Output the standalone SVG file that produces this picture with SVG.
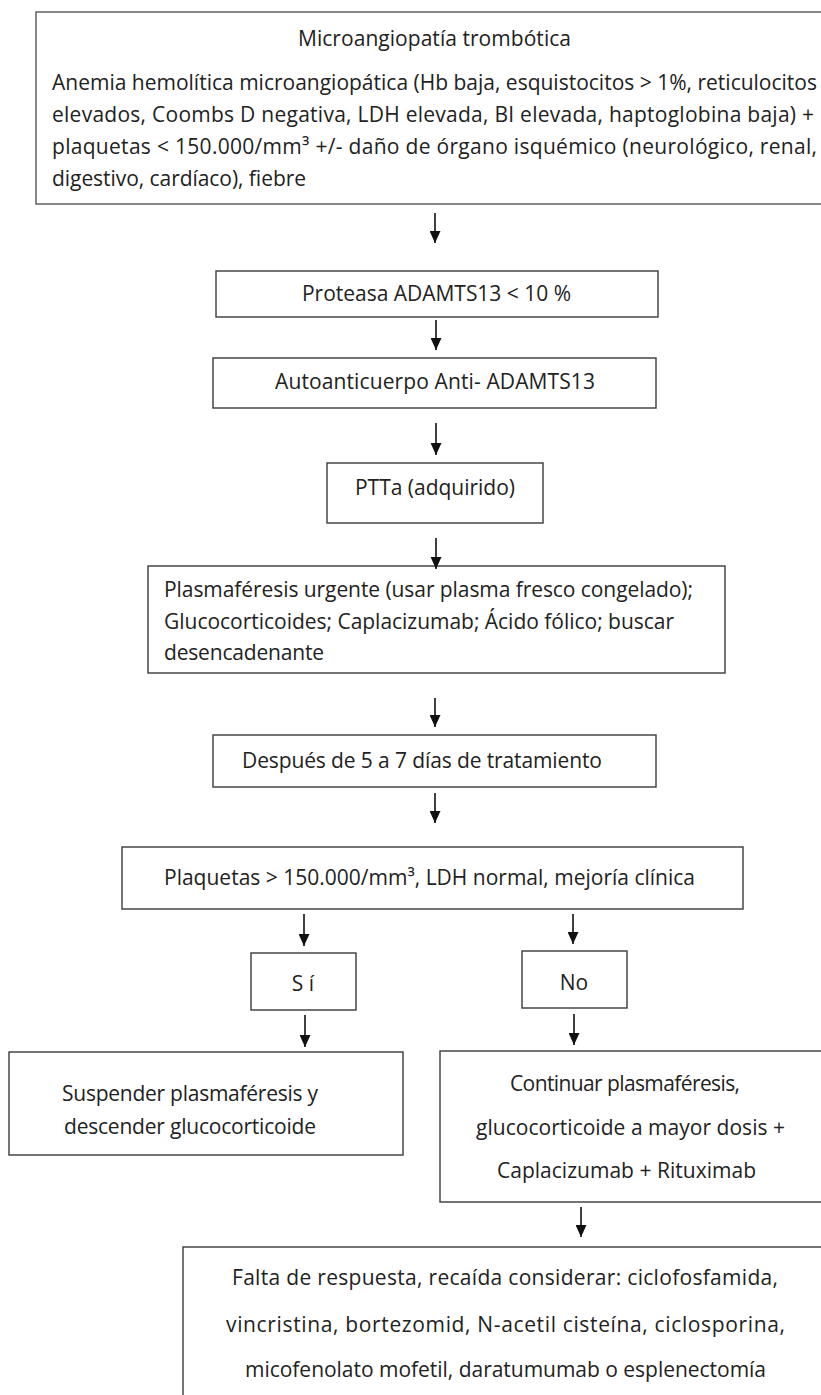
<svg xmlns="http://www.w3.org/2000/svg" width="821" height="1395" viewBox="0 0 821 1395">
<defs>
<marker id="ah" markerWidth="12" markerHeight="11" refX="12" refY="5.5" orient="auto" markerUnits="userSpaceOnUse" viewBox="0 0 12 11">
<path d="M0,0 L12,5.5 L0,11 Z" fill="#111"/>
</marker>
<style>
.box{fill:#fff;stroke:#3a3a3a;stroke-width:1.4}
.t{font-family:"Open Sans","Liberation Sans",sans-serif;font-size:21px;fill:#222}
.c{text-anchor:middle}
.arr{stroke:#111;stroke-width:1.6;fill:none}
</style>
</defs>
<rect x="0" y="0" width="821" height="1395" fill="#fff"/>

<g id="n1">
<rect class="box" x="36" y="12" width="800" height="192" style="stroke:#555"/>
<text class="t" x="298" y="46" textLength="273" lengthAdjust="spacing">Microangiopatía trombótica</text>
<text class="t" x="52" y="90" textLength="765" lengthAdjust="spacing">Anemia hemolítica microangiopática (Hb baja, esquistocitos &gt; 1%, reticulocitos</text>
<text class="t" x="52" y="122" textLength="762" lengthAdjust="spacing">elevados, Coombs D negativa, LDH elevada, BI elevada, haptoglobina baja) +</text>
<text class="t" x="52" y="154" textLength="765" lengthAdjust="spacing">plaquetas &lt; 150.000/mm³ +/- daño de órgano isquémico (neurológico, renal,</text>
<text class="t" x="52" y="186" textLength="254" lengthAdjust="spacing">digestivo, cardíaco), fiebre</text>
</g>

<g id="n2">
<rect class="box" x="216" y="271" width="442" height="46"/>
<text class="t" x="302" y="301" textLength="269" lengthAdjust="spacing">Proteasa ADAMTS13 &lt; 10 %</text>
</g>

<g id="n3">
<rect class="box" x="213" y="358" width="443" height="50"/>
<text class="t" x="275" y="389" textLength="320" lengthAdjust="spacing">Autoanticuerpo Anti- ADAMTS13</text>
</g>

<g id="n4">
<rect class="box" x="327" y="463" width="216" height="60"/>
<text class="t" x="355" y="495" textLength="160" lengthAdjust="spacing">PTTa (adquirido)</text>
</g>

<g id="n5">
<rect class="box" x="148" y="566" width="577" height="107"/>
<text class="t" x="164" y="597" textLength="529" lengthAdjust="spacing">Plasmaféresis urgente (usar plasma fresco congelado);</text>
<text class="t" x="164" y="629" textLength="510" lengthAdjust="spacing">Glucocorticoides; Caplacizumab; Ácido fólico; buscar</text>
<text class="t" x="164" y="660" textLength="160" lengthAdjust="spacing">desencadenante</text>
</g>

<g id="n6">
<rect class="box" x="213" y="735" width="443" height="52"/>
<text class="t" x="242" y="768" textLength="360" lengthAdjust="spacing">Después de 5 a 7 días de tratamiento</text>
</g>

<g id="n7">
<rect class="box" x="122" y="847" width="621" height="62"/>
<text class="t" x="164" y="885" textLength="531" lengthAdjust="spacing">Plaquetas &gt; 150.000/mm³, LDH normal, mejoría clínica</text>
</g>

<g id="n8">
<rect class="box" x="251" y="953" width="105" height="57"/>
<text class="t c" x="303" y="991">S í</text>
</g>

<g id="n9">
<rect class="box" x="522" y="951" width="105" height="57"/>
<text class="t c" x="574" y="990">No</text>
</g>

<g id="n10">
<rect class="box" x="9" y="1052" width="394" height="103"/>
<text class="t" x="62" y="1101" textLength="256" lengthAdjust="spacing">Suspender plasmaféresis y</text>
<text class="t" x="64" y="1134" textLength="252" lengthAdjust="spacing">descender glucocorticoide</text>
</g>

<g id="n11">
<rect class="box" x="440" y="1051" width="400" height="151"/>
<text class="t" x="510" y="1091" textLength="230" lengthAdjust="spacing">Continuar plasmaféresis,</text>
<text class="t" x="476" y="1135" textLength="309" lengthAdjust="spacing">glucocorticoide a  mayor dosis +</text>
<text class="t" x="497" y="1178" textLength="259" lengthAdjust="spacing">Caplacizumab +  Rituximab</text>
</g>

<g id="n12">
<rect class="box" x="183" y="1247" width="700" height="200"/>
<text class="t" x="232" y="1285" textLength="546" lengthAdjust="spacing">Falta de  respuesta,  recaída  considerar:  ciclofosfamida,</text>
<text class="t" x="226" y="1332" textLength="559" lengthAdjust="spacing">vincristina,  bortezomid,  N-acetil  cisteína,  ciclosporina,</text>
<text class="t" x="245" y="1377" textLength="521" lengthAdjust="spacing">micofenolato mofetil, daratumumab  o esplenectomía</text>
</g>

<g id="connectors">
<line class="arr" x1="435" y1="213" x2="435" y2="243" marker-end="url(#ah)"/>
<line class="arr" x1="436" y1="320" x2="436" y2="350" marker-end="url(#ah)"/>
<line class="arr" x1="436" y1="423" x2="436" y2="455" marker-end="url(#ah)"/>
<line class="arr" x1="436" y1="538" x2="436" y2="569" marker-end="url(#ah)"/>
<line class="arr" x1="435" y1="698" x2="435" y2="727" marker-end="url(#ah)"/>
<line class="arr" x1="435" y1="793" x2="435" y2="823" marker-end="url(#ah)"/>
<line class="arr" x1="304" y1="914" x2="304" y2="946" marker-end="url(#ah)"/>
<line class="arr" x1="573" y1="914" x2="573" y2="944" marker-end="url(#ah)"/>
<line class="arr" x1="305" y1="1015" x2="305" y2="1047" marker-end="url(#ah)"/>
<line class="arr" x1="574" y1="1014" x2="574" y2="1045" marker-end="url(#ah)"/>
<line class="arr" x1="581" y1="1207" x2="581" y2="1237" marker-end="url(#ah)"/>
</g>
</svg>
